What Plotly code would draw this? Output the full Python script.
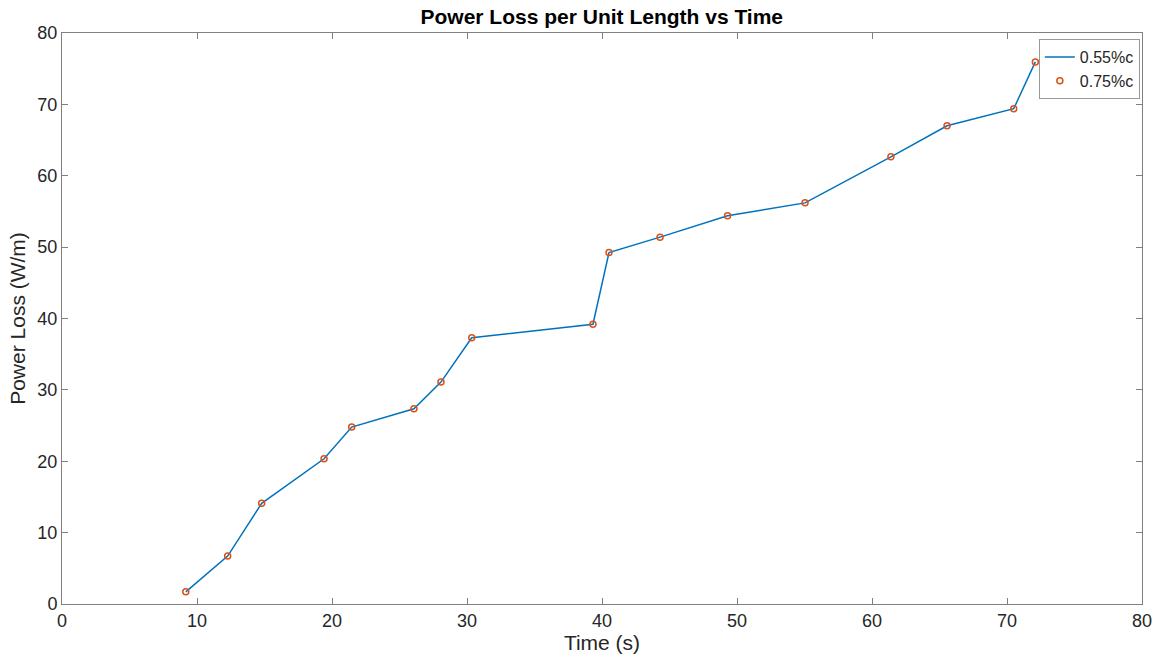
import plotly.graph_objects as go

time_s = [9.17, 12.27, 14.79, 19.41, 21.46, 26.07, 28.07, 30.35, 39.33, 40.52, 44.3,
          49.3, 55.04, 61.4, 65.56, 70.5, 72.1]
loss_055 = [1.7, 6.72, 14.1, 20.35, 24.79, 27.35, 31.09, 37.3, 39.2, 49.25, 51.4,
            54.4, 56.2, 62.65, 67.0, 69.4, 75.95]
loss_075 = [1.7, 6.72, 14.1, 20.35, 24.79, 27.35, 31.09, 37.3, 39.2, 49.25, 51.4,
            54.4, 56.2, 62.65, 67.0, 69.4, 75.95]

x_ticks = [0, 10, 20, 30, 40, 50, 60, 70, 80]
y_ticks = [0, 10, 20, 30, 40, 50, 60, 70, 80]

FONT = "Liberation Sans, Arial"

fig = go.Figure()
fig.add_trace(go.Scatter(x=time_s, y=loss_055, mode="lines", name="0.55%c",
                         line=dict(color="#0072BD", width=1.5)))
fig.add_trace(go.Scatter(x=time_s, y=loss_075, mode="markers", name="0.75%c",
                         marker=dict(symbol="circle-open", color="#D95319", size=6,
                                     line=dict(width=1.5, color="#D95319"))))

axis_common = dict(showgrid=False, zeroline=False, showline=True, linecolor="#808080",
                   linewidth=1, mirror="ticks", ticks="inside", ticklen=6,
                   tickcolor="#808080", tickfont=dict(family=FONT, size=18, color="#262626"))

fig.update_layout(
    width=1164, height=667,
    margin=dict(l=62, r=22, t=33, b=63),
    paper_bgcolor="white", plot_bgcolor="white",
    title=dict(text="<b>Power Loss per Unit Length vs Time</b>", x=0.517, xanchor="center",
               y=0.975, yanchor="middle",
               font=dict(family=FONT, size=21, color="black")),
    xaxis=dict(range=[0, 80], tickvals=x_ticks,
               title=dict(text="Time (s)", standoff=5,
                          font=dict(family=FONT, size=21, color="#262626")),
               **axis_common),
    yaxis=dict(range=[0, 80], tickvals=y_ticks,
               title=dict(text="Power Loss (W/m)", standoff=6,
                          font=dict(family=FONT, size=21, color="#262626")),
               **axis_common),
    legend=dict(x=0.998, y=0.9895, xanchor="right", yanchor="top",
                bgcolor="white", bordercolor="#999999", borderwidth=1,
                font=dict(family=FONT, size=16, color="#262626"),
                tracegroupgap=0, itemwidth=30),
    showlegend=True,
)

fig.write_html("out.html")
